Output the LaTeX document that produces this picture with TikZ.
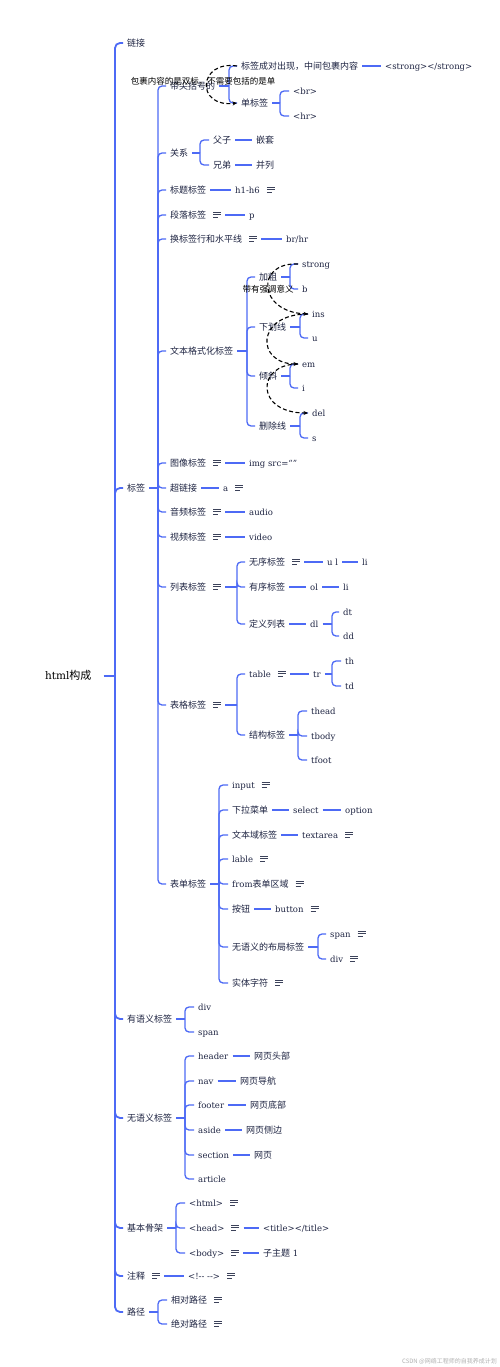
\documentclass[tikz,border=0pt]{standalone}
\usepackage{fontspec}
\setmainfont{DejaVu Serif}
\newfontfamily\zhfont{Noto Sans CJK SC}
\usetikzlibrary{arrows.meta}
\definecolor{blu}{RGB}{77,106,245}
\definecolor{txt}{RGB}{30,36,66}
\definecolor{notec}{RGB}{60,66,90}
\newcommand\zht[1]{{\zhfont\fontsize{9}{10}\selectfont #1}}
\newcommand\noteic{\hspace{7pt}\raisebox{0.6pt}{\color{notec}\vbox{\hrule width 8pt height 0.8pt\vskip 1.7pt\hrule width 8pt height 0.8pt\vskip 1.7pt\hrule width 5pt height 0.8pt}}}
\newcommand\fork[3]{%
  \draw[ln] (#1.east) -- (#1.east -| #2,0);
  \foreach \ch in {#3} {\draw[ln] (#1.east -| #2,0) |- (\ch.west);}}
\newcommand\chain[2]{\draw[ln] (#1.east) -- (#2.west);}
\tikzset{
  nd/.style={inner xsep=4pt, inner ysep=0pt, text height=8pt, text depth=1.8pt, anchor=west, text=txt},
  en/.style={nd, font=\fontsize{8.5}{10}\selectfont},
  zh/.style={nd, font=\zhfont\fontsize{9}{10}\selectfont},
  ln/.style={draw=blu, line width=1.3pt, rounded corners=4pt},
  trunk/.style={draw=blu, line width=1.8pt, rounded corners=5pt},
  rel/.style={draw=black, line width=1.1pt, dash pattern=on 4pt off 2.5pt, -{Stealth[length=4.5pt,width=4pt]}},
  rlab/.style={font=\zhfont\fontsize{8.5}{10}\selectfont, text=black, inner sep=0pt},
}
\begin{document}
\begin{tikzpicture}[x=1pt,y=-1pt]
\useasboundingbox (0,0) rectangle (500,1367);
\fill[white] (0,0) rectangle (500,1367);

% root
\node[en, font=\fontsize{10.5}{12}\selectfont, text=black] (root) at (41,676) {html{\zhfont\fontsize{11}{12}\selectfont 构成}};

% level 1
\node[zh] (lj) at (123,43) {链接};
\node[zh] (bq) at (123,488) {标签};
\node[zh] (yy) at (123,1019) {有语义标签};
\node[zh] (wy) at (123,1118) {无语义标签};
\node[zh] (gj) at (123,1228) {基本骨架};
\node[zh] (zs) at (123,1276) {注释\noteic};
\node[zh] (lu) at (123,1312) {路径};

\draw[trunk] ([xshift=8pt]root.east) -- (root.east -| 115,0);
\foreach \ch in {lj,bq,yy,wy,gj,zs,lu} {\draw[trunk] (root.east -| 115,0) |- (\ch.west);}

% level 2 under 标签
\node[zh] (jk) at (166,86) {带尖括号的};
\node[zh] (gx) at (166,153) {关系};
\node[zh] (bt) at (166,190) {标题标签};
\node[zh] (dl) at (166,215) {段落标签\noteic};
\node[zh] (hh) at (166,239) {换标签行和水平线\noteic};
\node[zh] (wb) at (166,351) {文本格式化标签};
\node[zh] (tx) at (166,463) {图像标签\noteic};
\node[zh] (cl) at (166,488) {超链接};
\node[zh] (yp) at (166,512) {音频标签\noteic};
\node[zh] (sp) at (166,537) {视频标签\noteic};
\node[zh] (lb) at (166,587) {列表标签\noteic};
\node[zh] (bg) at (166,705) {表格标签\noteic};
\node[zh] (bd) at (166,884) {表单标签};
\fork{bq}{158}{jk,gx,bt,dl,hh,wb,tx,cl,yp,sp,lb,bg,bd}

% 带尖括号的
\node[zh] (pair) at (237,66) {标签成对出现，中间包裹内容};
\node[zh] (single) at (237,103) {单标签};
\node[en] (strp) at (381,66) {<strong></strong>};
\node[en] (br) at (289,91) {<br>};
\node[en] (hr) at (289,116) {<hr>};
\fork{jk}{229}{pair,single}
\chain{pair}{strp}
\fork{single}{280}{br,hr}
\draw[rel] (pair.west) .. controls (198,60) and (195,108) .. (single.west);
\node[rlab] (rl1) at (203,81) {包裹内容的是双标，不需要包括的是单};

% 关系
\node[zh] (fz) at (209,140) {父子};
\node[zh] (xd) at (209,165) {兄弟};
\node[zh] (qt) at (252,140) {嵌套};
\node[zh] (bl) at (252,165) {并列};
\fork{gx}{200}{fz,xd}
\chain{fz}{qt}
\chain{xd}{bl}

% 标题 / 段落 / 换行
\node[en] (h16) at (231,190) {h1-h6\noteic};
\chain{bt}{h16}
\node[en] (p) at (245,215) {p};
\chain{dl}{p}
\node[en] (brhr) at (282,239) {br/hr};
\chain{hh}{brhr}

% 文本格式化标签
\node[zh] (jc) at (255,277) {加粗};
\node[zh] (xh) at (255,327) {下划线};
\node[zh] (qx) at (255,376) {倾斜};
\node[zh] (sc) at (255,426) {删除线};
\fork{wb}{247}{jc,xh,qx,sc}
\node[en] (strong) at (298,264) {strong};
\node[en] (b) at (298,289) {b};
\node[en] (ins) at (308,314) {ins};
\node[en] (u) at (308,338) {u};
\node[en] (em) at (298,364) {em};
\node[en] (i) at (298,388) {i};
\node[en] (del) at (308,413) {del};
\node[en] (s) at (308,438) {s};
\fork{jc}{290}{strong,b}
\fork{xh}{300}{ins,u}
\fork{qx}{290}{em,i}
\fork{sc}{300}{del,s}
\draw[rel] (strong.west) .. controls (255,262) and (258,312) .. (ins.west);
\draw[rel] (ins.west) .. controls (255,314) and (256,364) .. (em.west);
\draw[rel] (em.west) .. controls (256,364) and (255,413) .. (del.west);
\node[rlab] (rl2) at (268,289) {带有强调意义};

% 图像 / 超链接 / 音频 / 视频
\node[en] (img) at (245,463) {img src=“”};
\chain{tx}{img}
\node[en] (a) at (219,488) {a\noteic};
\chain{cl}{a}
\node[en] (audio) at (245,512) {audio};
\chain{yp}{audio}
\node[en] (video) at (245,537) {video};
\chain{sp}{video}

% 列表标签
\node[zh] (wx) at (245,562) {无序标签\noteic};
\node[zh] (yx) at (245,587) {有序标签};
\node[zh] (dy) at (245,624) {定义列表};
\fork{lb}{237}{wx,yx,dy}
\node[en] (ul) at (323,562) {u l};
\node[en] (li1) at (358,562) {li};
\chain{wx}{ul}
\chain{ul}{li1}
\node[en] (ol) at (306,587) {ol};
\node[en] (li2) at (339,587) {li};
\chain{yx}{ol}
\chain{ol}{li2}
\node[en] (dlt) at (306,624) {dl};
\chain{dy}{dlt}
\node[en] (dt) at (339,612) {dt};
\node[en] (dd) at (339,636) {dd};
\fork{dlt}{332}{dt,dd}

% 表格标签
\node[en] (table) at (245,674) {table\noteic};
\node[zh] (jg) at (245,735) {结构标签};
\fork{bg}{237}{table,jg}
\node[en] (tr) at (309,674) {tr};
\chain{table}{tr}
\node[en] (th) at (341,661) {th};
\node[en] (td) at (341,686) {td};
\fork{tr}{332}{th,td}
\node[en] (thead) at (307,711) {thead};
\node[en] (tbody) at (307,736) {tbody};
\node[en] (tfoot) at (307,760) {tfoot};
\fork{jg}{298}{thead,tbody,tfoot}

% 表单标签
\node[en] (input) at (228,785) {input\noteic};
\node[zh] (xl) at (228,810) {下拉菜单};
\node[zh] (wy2) at (228,835) {文本域标签};
\node[en] (lable) at (228,859) {lable\noteic};
\node[en] (from) at (228,884) {from\zht{表单区域}\noteic};
\node[zh] (an) at (228,909) {按钮};
\node[zh] (bj) at (228,947) {无语义的布局标签};
\node[zh] (st) at (228,983) {实体字符\noteic};
\fork{bd}{219}{input,xl,wy2,lable,from,an,bj,st}
\node[en] (select) at (289,810) {select};
\node[en] (option) at (341,810) {option};
\chain{xl}{select}
\chain{select}{option}
\node[en] (textarea) at (298,835) {textarea\noteic};
\chain{wy2}{textarea}
\node[en] (button) at (271,909) {button\noteic};
\chain{an}{button}
\node[en] (span1) at (326,934) {span\noteic};
\node[en] (div1) at (326,959) {div\noteic};
\fork{bj}{318}{span1,div1}

% 有语义标签
\node[en] (div2) at (194,1007) {div};
\node[en] (span2) at (194,1032) {span};
\fork{yy}{185}{div2,span2}

% 无语义标签
\node[en] (header) at (194,1056) {header};
\node[en] (nav) at (194,1081) {nav};
\node[en] (footer) at (194,1105) {footer};
\node[en] (aside) at (194,1130) {aside};
\node[en] (section) at (194,1155) {section};
\node[en] (article) at (194,1179) {article};
\fork{wy}{185}{header,nav,footer,aside,section,article}
\node[zh] (wytb) at (250,1056) {网页头部};
\node[zh] (wydh) at (236,1081) {网页导航};
\node[zh] (wydb) at (246,1105) {网页底部};
\node[zh] (wycb) at (242,1130) {网页侧边};
\node[zh] (wyy) at (250,1155) {网页};
\chain{header}{wytb}
\chain{nav}{wydh}
\chain{footer}{wydb}
\chain{aside}{wycb}
\chain{section}{wyy}

% 基本骨架
\node[en] (html) at (185,1203) {<html>\noteic};
\node[en] (head) at (185,1228) {<head>\noteic};
\node[en] (body) at (185,1253) {<body>\noteic};
\fork{gj}{176}{html,head,body}
\node[en] (title) at (259,1228) {<title></title>};
\node[en] (zzt) at (259,1253) {\zht{子主题} 1};
\chain{head}{title}
\chain{body}{zzt}

% 注释
\node[en] (cmt) at (184,1276) {<!-{}- -{}->\noteic};
\chain{zs}{cmt}

% 路径
\node[zh] (xdlj) at (167,1300) {相对路径\noteic};
\node[zh] (jdlj) at (167,1324) {绝对路径\noteic};
\fork{lu}{158}{xdlj,jdlj}

% watermark
\node[anchor=east, inner sep=0pt, text=black!30, font=\zhfont\fontsize{6}{7}\selectfont] (wm) at (497,1361) {CSDN @网络工程师的自我养成计划};
\end{tikzpicture}
\end{document}
